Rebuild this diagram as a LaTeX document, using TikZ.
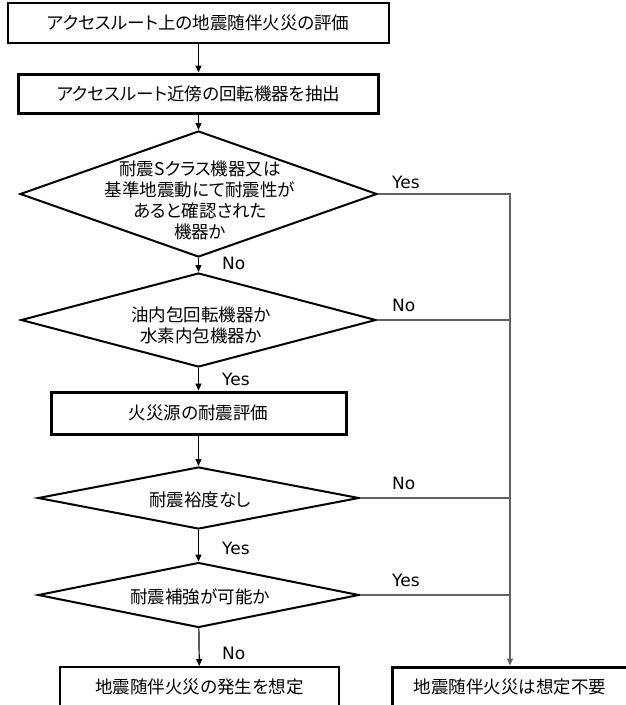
\documentclass[tikz,border=0pt]{standalone}
\usepackage{fontspec}
\setmainfont{Noto Sans CJK JP}[RawFeature=+palt]
\newfontfamily\yesno{DejaVu Sans}
\usetikzlibrary{arrows.meta,shapes.geometric}

\tikzset{
  stage/.style={draw,line width=2pt,minimum height=40pt,inner sep=0pt,font=\fontsize{17.5}{21}\selectfont},
  keystage/.style={stage,line width=3pt},
  ask/.style={draw,diamond,line width=2pt,inner sep=0pt},
  asktext/.style={align=center,font=\fontsize{17.5}{21}\selectfont},
  flow/.style={-{Triangle[length=7pt,width=6pt]},line width=1.2pt},
  bypass/.style={line width=1.6pt,draw=black!62},
  tag/.style={font=\yesno\fontsize{17}{19}\selectfont,anchor=west,inner sep=0pt},
}

\begin{document}
\begin{tikzpicture}[x=1pt,y=-1pt]
  \useasboundingbox (0,0) rectangle (626,705);
  % main column
  \node[stage,minimum width=381pt] (eval) at (198.5,23) {アクセスルート上の地震随伴火災の評価};
  \node[keystage,minimum width=360pt,minimum height=39pt] (extract) at (198.5,93.5) {アクセスルート近傍の回転機器を抽出};
  \node[ask,minimum width=357pt,minimum height=126pt] (q1) at (198.5,194) {};
  \node[asktext] (q1txt) at (200,200) {耐震Sクラス機器又は\\基準地震動にて耐震性が\\あると確認された\\機器か};
  \node[ask,minimum width=355pt,minimum height=94pt] (q2) at (198.5,320) {};
  \node[asktext] (q2txt) at (201,325) {油内包回転機器か\\水素内包機器か};
  \node[keystage,minimum width=295pt,minimum height=42pt] (fire) at (198.5,413) {火災源の耐震評価};
  \node[ask,minimum width=321pt,minimum height=62pt] (q3) at (198.5,498) {};
  \node[asktext] (q3txt) at (200,500) {耐震裕度なし};
  \node[ask,minimum width=321pt,minimum height=65pt] (q4) at (198.5,595) {};
  \node[asktext] (q4txt) at (200,597) {耐震補強が可能か};
  \node[stage,minimum width=279pt] (assume) at (199.5,687) {地震随伴火災の発生を想定};
  \node[keystage,minimum width=236pt] (noneed) at (510,687) {地震随伴火災は想定不要};

  \draw[flow] (eval) -- (extract);
  \draw[flow] (extract) -- (q1);
  \draw[flow] (q1) -- (q2);
  \draw[flow] (q2) -- (fire);
  \draw[flow] (fire) -- (q3);
  \draw[flow] (q3) -- (q4);
  \draw[flow] (q4) -- (assume);

  % bypass to the right
  \coordinate (turn) at (510,194);
  \draw[bypass,-{Triangle[length=7pt,width=6pt]}] (q1.east) -- (turn) -- (noneed.north);
  \foreach \q in {q2,q3,q4}{\draw[bypass] (\q.east) -- (\q.east -| turn);}

  \node[tag] (y1) at (392,182) {Yes};
  \node[tag] (n1) at (222,263) {No};
  \node[tag] (n2) at (392,305) {No};
  \node[tag] (y2) at (222,379) {Yes};
  \node[tag] (n3) at (392,483) {No};
  \node[tag] (y3) at (222,548) {Yes};
  \node[tag] (y4) at (392,580) {Yes};
  \node[tag] (n4) at (222,653) {No};
\end{tikzpicture}
\end{document}
